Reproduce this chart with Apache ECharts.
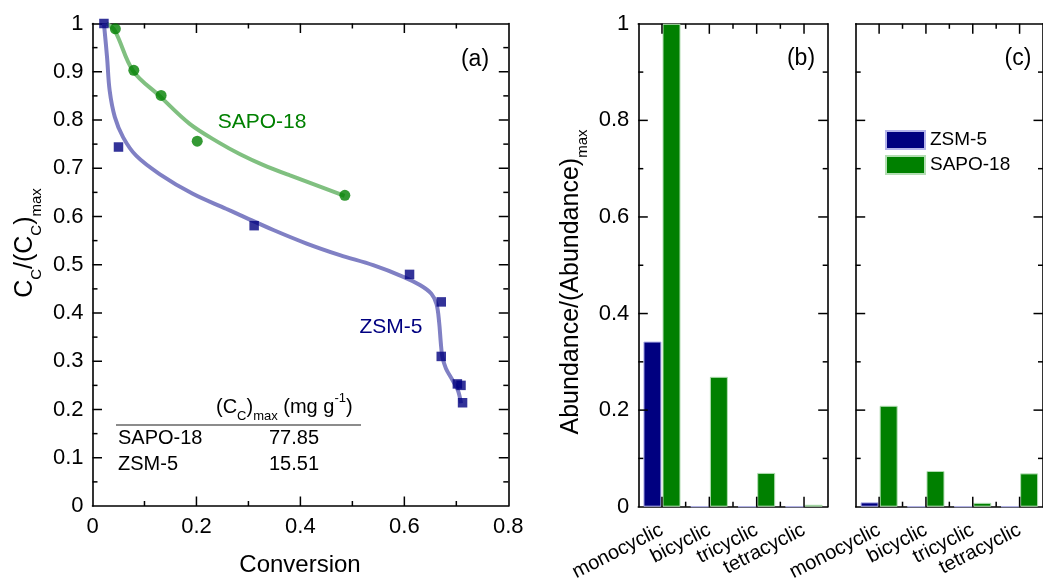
<!DOCTYPE html>
<html>
<head>
<meta charset="utf-8">
<script src="https://cdn.jsdelivr.net/npm/echarts@6/dist/echarts.min.js"></script>
<style>
  html, body { margin: 0; padding: 0; background: #ffffff; }
  #chart { width: 1043px; height: 584px; }
</style>
</head>
<body>
<div id="chart"></div>
<script>
// (a) normalised coke content against conversion
const sapo18Conversion = [0.044, 0.0795, 0.132, 0.2015, 0.4855];
const sapo18Coke = [0.989, 0.903, 0.851, 0.756, 0.644];
const zsm5Conversion = [0.022, 0.050, 0.311, 0.610, 0.671, 0.671, 0.702, 0.709, 0.712];
const zsm5Coke = [1.000, 0.744, 0.581, 0.480, 0.423, 0.310, 0.253, 0.250, 0.214];

// trend lines drawn through the data
const sapo18FitX = [0.027, 0.043, 0.078, 0.129, 0.187, 0.245, 0.284, 0.328, 0.380, 0.485];
const sapo18FitY = [1.000, 0.985, 0.902, 0.850, 0.792, 0.752, 0.729, 0.707, 0.685, 0.643];
const zsm5FitX = [0.022, 0.028, 0.033, 0.043, 0.059, 0.084, 0.129, 0.193, 0.257, 0.284, 0.348, 0.412, 0.476, 0.540, 0.598, 0.630, 0.652, 0.662, 0.667, 0.670, 0.673, 0.680, 0.692, 0.703, 0.709];
const zsm5FitY = [1.000, 0.930, 0.861, 0.806, 0.764, 0.726, 0.688, 0.647, 0.616, 0.603, 0.572, 0.544, 0.520, 0.499, 0.475, 0.458, 0.440, 0.418, 0.380, 0.340, 0.310, 0.285, 0.262, 0.240, 0.213];

// (b) and (c) relative abundance of ring families
const ringClasses = ['monocyclic', 'bicyclic', 'tricyclic', 'tetracyclic'];
const zsm5AbundanceB = [0.342, 0, 0, 0];
const sapo18AbundanceB = [1.000, 0.269, 0.070, 0.004];
const zsm5AbundanceC = [0.009, 0, 0, 0];
const sapo18AbundanceC = [0.209, 0.074, 0.008, 0.069];

// maximum coke content table
const tableMaterials = ['SAPO-18', 'ZSM-5'];
const tableCokeMax = ['77.85', '15.51'];

// tick positions on the frames (major ticks carry the labels)
const conversionMajorTicks = [0.2, 0.4, 0.6];
const conversionMinorTicks = [0.1, 0.3, 0.5, 0.7];
const cokeMajorTicks = [0.1, 0.2, 0.3, 0.4, 0.5, 0.6, 0.7, 0.8, 0.9];
const cokeMinorTicks = [0.05, 0.15, 0.25, 0.35, 0.45, 0.55, 0.65, 0.75, 0.85, 0.95];
const abundanceMajorTicks = [0.2, 0.4, 0.6, 0.8];
const abundanceMinorTicks = [0.1, 0.3, 0.5, 0.7, 0.9];

const FONT = '"Liberation Sans", Arial, Helvetica, sans-serif';
const BLACK = '#000000';
const NAVY = '#000080';
const GREEN = '#008000';
const MAJOR = 9.5;
const MINOR = 5;

const pairs = (xs, ys) => xs.map((x, i) => [x, ys[i]]);

function valueAxis(id, gridIndex, position, min, max, interval, showLabels) {
  return {
    id, type: 'value', gridIndex, position, min, max, interval,
    axisLine: { show: true, onZero: false, lineStyle: { color: BLACK, width: 1.6 } },
    axisTick: { show: false },
    minorTick: { show: false },
    splitLine: { show: false },
    minorSplitLine: { show: false },
    axisLabel: { show: showLabels, fontSize: 22, fontFamily: FONT, color: BLACK, margin: 10 }
  };
}

function categoryAxis(id, gridIndex, position, showLabels) {
  return {
    id, type: 'category', gridIndex, position, data: ringClasses,
    axisLine: { show: true, onZero: false, lineStyle: { color: BLACK, width: 1.6 } },
    axisTick: { show: false },
    splitLine: { show: false },
    axisLabel: {
      show: showLabels, interval: 0, rotate: 27, fontSize: 20, fontFamily: FONT,
      color: BLACK, margin: 22
    }
  };
}

const grids = [
  { left: 92.5, top: 23.5, width: 415.8, height: 482.5 },
  { left: 638.3, top: 23.8, width: 189.4, height: 482.9 },
  { left: 855.7, top: 23.8, width: 189.4, height: 482.9 }
];

const xAxes = [
  valueAxis('convBottom', 0, 'bottom', 0, 0.8, 0.2, true),
  valueAxis('convTop', 0, 'top', 0, 0.8, 0.2, false),
  categoryAxis('ringsB', 1, 'bottom', true),
  categoryAxis('ringsBTop', 1, 'top', false),
  categoryAxis('ringsC', 2, 'bottom', true),
  categoryAxis('ringsCTop', 2, 'top', false)
];

const yAxes = [
  valueAxis('cokeLeft', 0, 'left', 0, 1, 0.1, true),
  valueAxis('cokeRight', 0, 'right', 0, 1, 0.1, false),
  valueAxis('abundB', 1, 'left', 0, 1, 0.2, true),
  valueAxis('abundBRight', 1, 'right', 0, 1, 0.2, false),
  valueAxis('abundC', 2, 'left', 0, 1, 0.2, false),
  valueAxis('abundCRight', 2, 'right', 0, 1, 0.2, false)
];
yAxes[0].axisLabel.margin = 9;
yAxes[2].axisLabel.margin = 9;
yAxes[0].axisLabel.formatter = v => String(Math.round(v * 10) / 10);

const zsmBarStyle = () => ({ color: NAVY, borderColor: '#b4b4ea', borderWidth: 1 });
const sapoBarStyle = () => ({ color: GREEN, borderColor: '#b4deb4', borderWidth: 1 });

const series = [
  { name: 'ZSM-5', type: 'bar', xAxisIndex: 2, yAxisIndex: 2, data: zsm5AbundanceB, barWidth: 18, barGap: '6%', itemStyle: zsmBarStyle() },
  { name: 'SAPO-18', type: 'bar', xAxisIndex: 2, yAxisIndex: 2, data: sapo18AbundanceB, barWidth: 18, barGap: '6%', itemStyle: sapoBarStyle() },
  { name: 'ZSM-5', type: 'bar', xAxisIndex: 4, yAxisIndex: 4, data: zsm5AbundanceC, barWidth: 18, barGap: '6%', itemStyle: zsmBarStyle() },
  { name: 'SAPO-18', type: 'bar', xAxisIndex: 4, yAxisIndex: 4, data: sapo18AbundanceC, barWidth: 18, barGap: '6%', itemStyle: sapoBarStyle() },
  {
    name: 'SAPO-18 trend', type: 'line', xAxisIndex: 0, yAxisIndex: 0,
    data: pairs(sapo18FitX, sapo18FitY), smooth: 0.35, showSymbol: false, silent: true,
    lineStyle: { color: '#80c080', width: 4 }, z: 2
  },
  {
    name: 'ZSM-5 trend', type: 'line', xAxisIndex: 0, yAxisIndex: 0,
    data: pairs(zsm5FitX, zsm5FitY), smooth: 0.35, showSymbol: false, silent: true,
    lineStyle: { color: '#8080c4', width: 4 }, z: 2
  },
  {
    name: 'SAPO-18 data', type: 'scatter', xAxisIndex: 0, yAxisIndex: 0,
    data: pairs(sapo18Conversion, sapo18Coke), symbol: 'circle', symbolSize: 11,
    itemStyle: { color: GREEN }, z: 3
  },
  {
    name: 'ZSM-5 data', type: 'scatter', xAxisIndex: 0, yAxisIndex: 0,
    data: pairs(zsm5Conversion, zsm5Coke), symbol: 'rect', symbolSize: 9.5,
    itemStyle: { color: NAVY }, z: 3
  }
];

const txt = (x, y, text, size, color, align) => ({
  type: 'text', x, y, silent: true,
  style: { text, fontSize: size, fontFamily: FONT, fill: color || BLACK, align: align || 'center', verticalAlign: 'middle' }
});

const richMain = (size, lh) => ({ fontSize: size, fontFamily: FONT, fill: BLACK, lineHeight: lh, verticalAlign: 'middle' });
const richSub = size => ({ fontSize: size, fontFamily: FONT, fill: BLACK, lineHeight: size, verticalAlign: 'bottom' });
const richSup = size => ({ fontSize: size, fontFamily: FONT, fill: BLACK, lineHeight: size, verticalAlign: 'top' });

const graphic = [
  txt(475, 60, '(a)', 23),
  txt(801, 59, '(b)', 23),
  txt(1018, 59, '(c)', 23),
  txt(262, 122, 'SAPO-18', 21, GREEN),
  txt(391, 327, 'ZSM-5', 21, NAVY),
  txt(300, 565, 'Conversion', 24),
  {
    type: 'text', x: 25, y: 243, rotation: Math.PI / 2, silent: true,
    style: {
      text: '{m|C}{s|C}{m|/(C}{s|C}{m|)}{s|max}',
      align: 'center', verticalAlign: 'middle', fill: BLACK,
      rich: { m: richMain(25, 39), s: richSub(15) }
    }
  },
  {
    type: 'text', x: 571, y: 282, rotation: Math.PI / 2, silent: true,
    style: {
      text: '{m|Abundance/(Abundance)}{s|max}',
      align: 'center', verticalAlign: 'middle', fill: BLACK,
      rich: { m: richMain(25, 39), s: richSub(15) }
    }
  },
  {
    type: 'text', x: 216, y: 407, silent: true,
    style: {
      text: '{m|(C}{s|C}{m|)}{s|max}{m| (mg g}{p|-1}{m|)}',
      align: 'left', verticalAlign: 'middle', fill: BLACK,
      rich: { m: richMain(20, 31), s: richSub(13), p: richSup(13) }
    }
  },
  {
    type: 'line', silent: true,
    shape: { x1: 116, y1: 425, x2: 361, y2: 425 },
    style: { stroke: '#666666', lineWidth: 1.5 }
  }
];

tableMaterials.forEach((name, i) => {
  graphic.push(txt(118, 438 + i * 26, name, 20, BLACK, 'left'));
  graphic.push(txt(269, 438 + i * 26, tableCokeMax[i], 20, BLACK, 'left'));
});

const chart = echarts.init(document.getElementById('chart'), null, { renderer: 'canvas' });
chart.setOption({
  animation: false,
  backgroundColor: '#ffffff',
  grid: grids,
  xAxis: xAxes,
  yAxis: yAxes,
  legend: {
    data: [{ name: 'ZSM-5', icon: 'rect' }, { name: 'SAPO-18', icon: 'rect' }],
    orient: 'vertical', left: 885, top: 130, padding: 0,
    itemWidth: 39, itemHeight: 18, itemGap: 5, selectedMode: false,
    textStyle: { fontSize: 19, fontFamily: FONT, color: BLACK }
  },
  series,
  graphic
});

// Frame ticks on all four sides of each panel, placed through the axis scales.
const tickLine = (x1, y1, x2, y2) => ({
  type: 'line', silent: true, z: 50,
  shape: { x1, y1, x2, y2 }, style: { stroke: BLACK, lineWidth: 1.5 }
});

// data value -> pixel through a series of the panel (both axes at once)
const toPixel = (seriesIndex, x, y) => chart.convertToPixel({ seriesIndex }, [x, y]);

function frameTicks(xEdges, yEdges, xMarks, yMarks) {
  const [left, right] = xEdges;
  const [bottom, top] = yEdges;
  const out = [];
  xMarks.forEach(([x, len]) => {
    out.push(tickLine(x, bottom, x, bottom - len));
    out.push(tickLine(x, top, x, top + len));
  });
  yMarks.forEach(([y, len]) => {
    out.push(tickLine(left, y, left + len, y));
    out.push(tickLine(right, y, right - len, y));
  });
  return out;
}

const ticks = [];
// panel (a), scales of the SAPO-18 scatter series
{
  const s = 6;
  const origin = toPixel(s, 0, 0);
  const corner = toPixel(s, 0.8, 1);
  const xMarks = conversionMajorTicks.map(v => [toPixel(s, v, 0)[0], MAJOR])
    .concat(conversionMinorTicks.map(v => [toPixel(s, v, 0)[0], MINOR]));
  const yMarks = cokeMajorTicks.map(v => [toPixel(s, 0, v)[1], MAJOR])
    .concat(cokeMinorTicks.map(v => [toPixel(s, 0, v)[1], MINOR]));
  ticks.push(...frameTicks([origin[0], corner[0]], [origin[1], corner[1]], xMarks, yMarks));
}
// panels (b) and (c), scales of their SAPO-18 bar series
[1, 3].forEach(s => {
  const centres = ringClasses.map((c, i) => toPixel(s, i, 0)[0]);
  const band = centres[1] - centres[0];
  const xEdges = [centres[0] - band / 2, centres[centres.length - 1] + band / 2];
  const yEdges = [toPixel(s, 0, 0)[1], toPixel(s, 0, 1)[1]];
  const xMarks = centres.map(x => [x, MAJOR + 0.5])
    .concat(centres.slice(0, -1).map(x => [x + band / 2, MINOR]));
  const yMarks = abundanceMajorTicks.map(v => [toPixel(s, 0, v)[1], MAJOR])
    .concat(abundanceMinorTicks.map(v => [toPixel(s, 0, v)[1], MINOR]));
  ticks.push(...frameTicks(xEdges, yEdges, xMarks, yMarks));
});

chart.setOption({ graphic: graphic.concat(ticks) });
</script>
</body>
</html>
